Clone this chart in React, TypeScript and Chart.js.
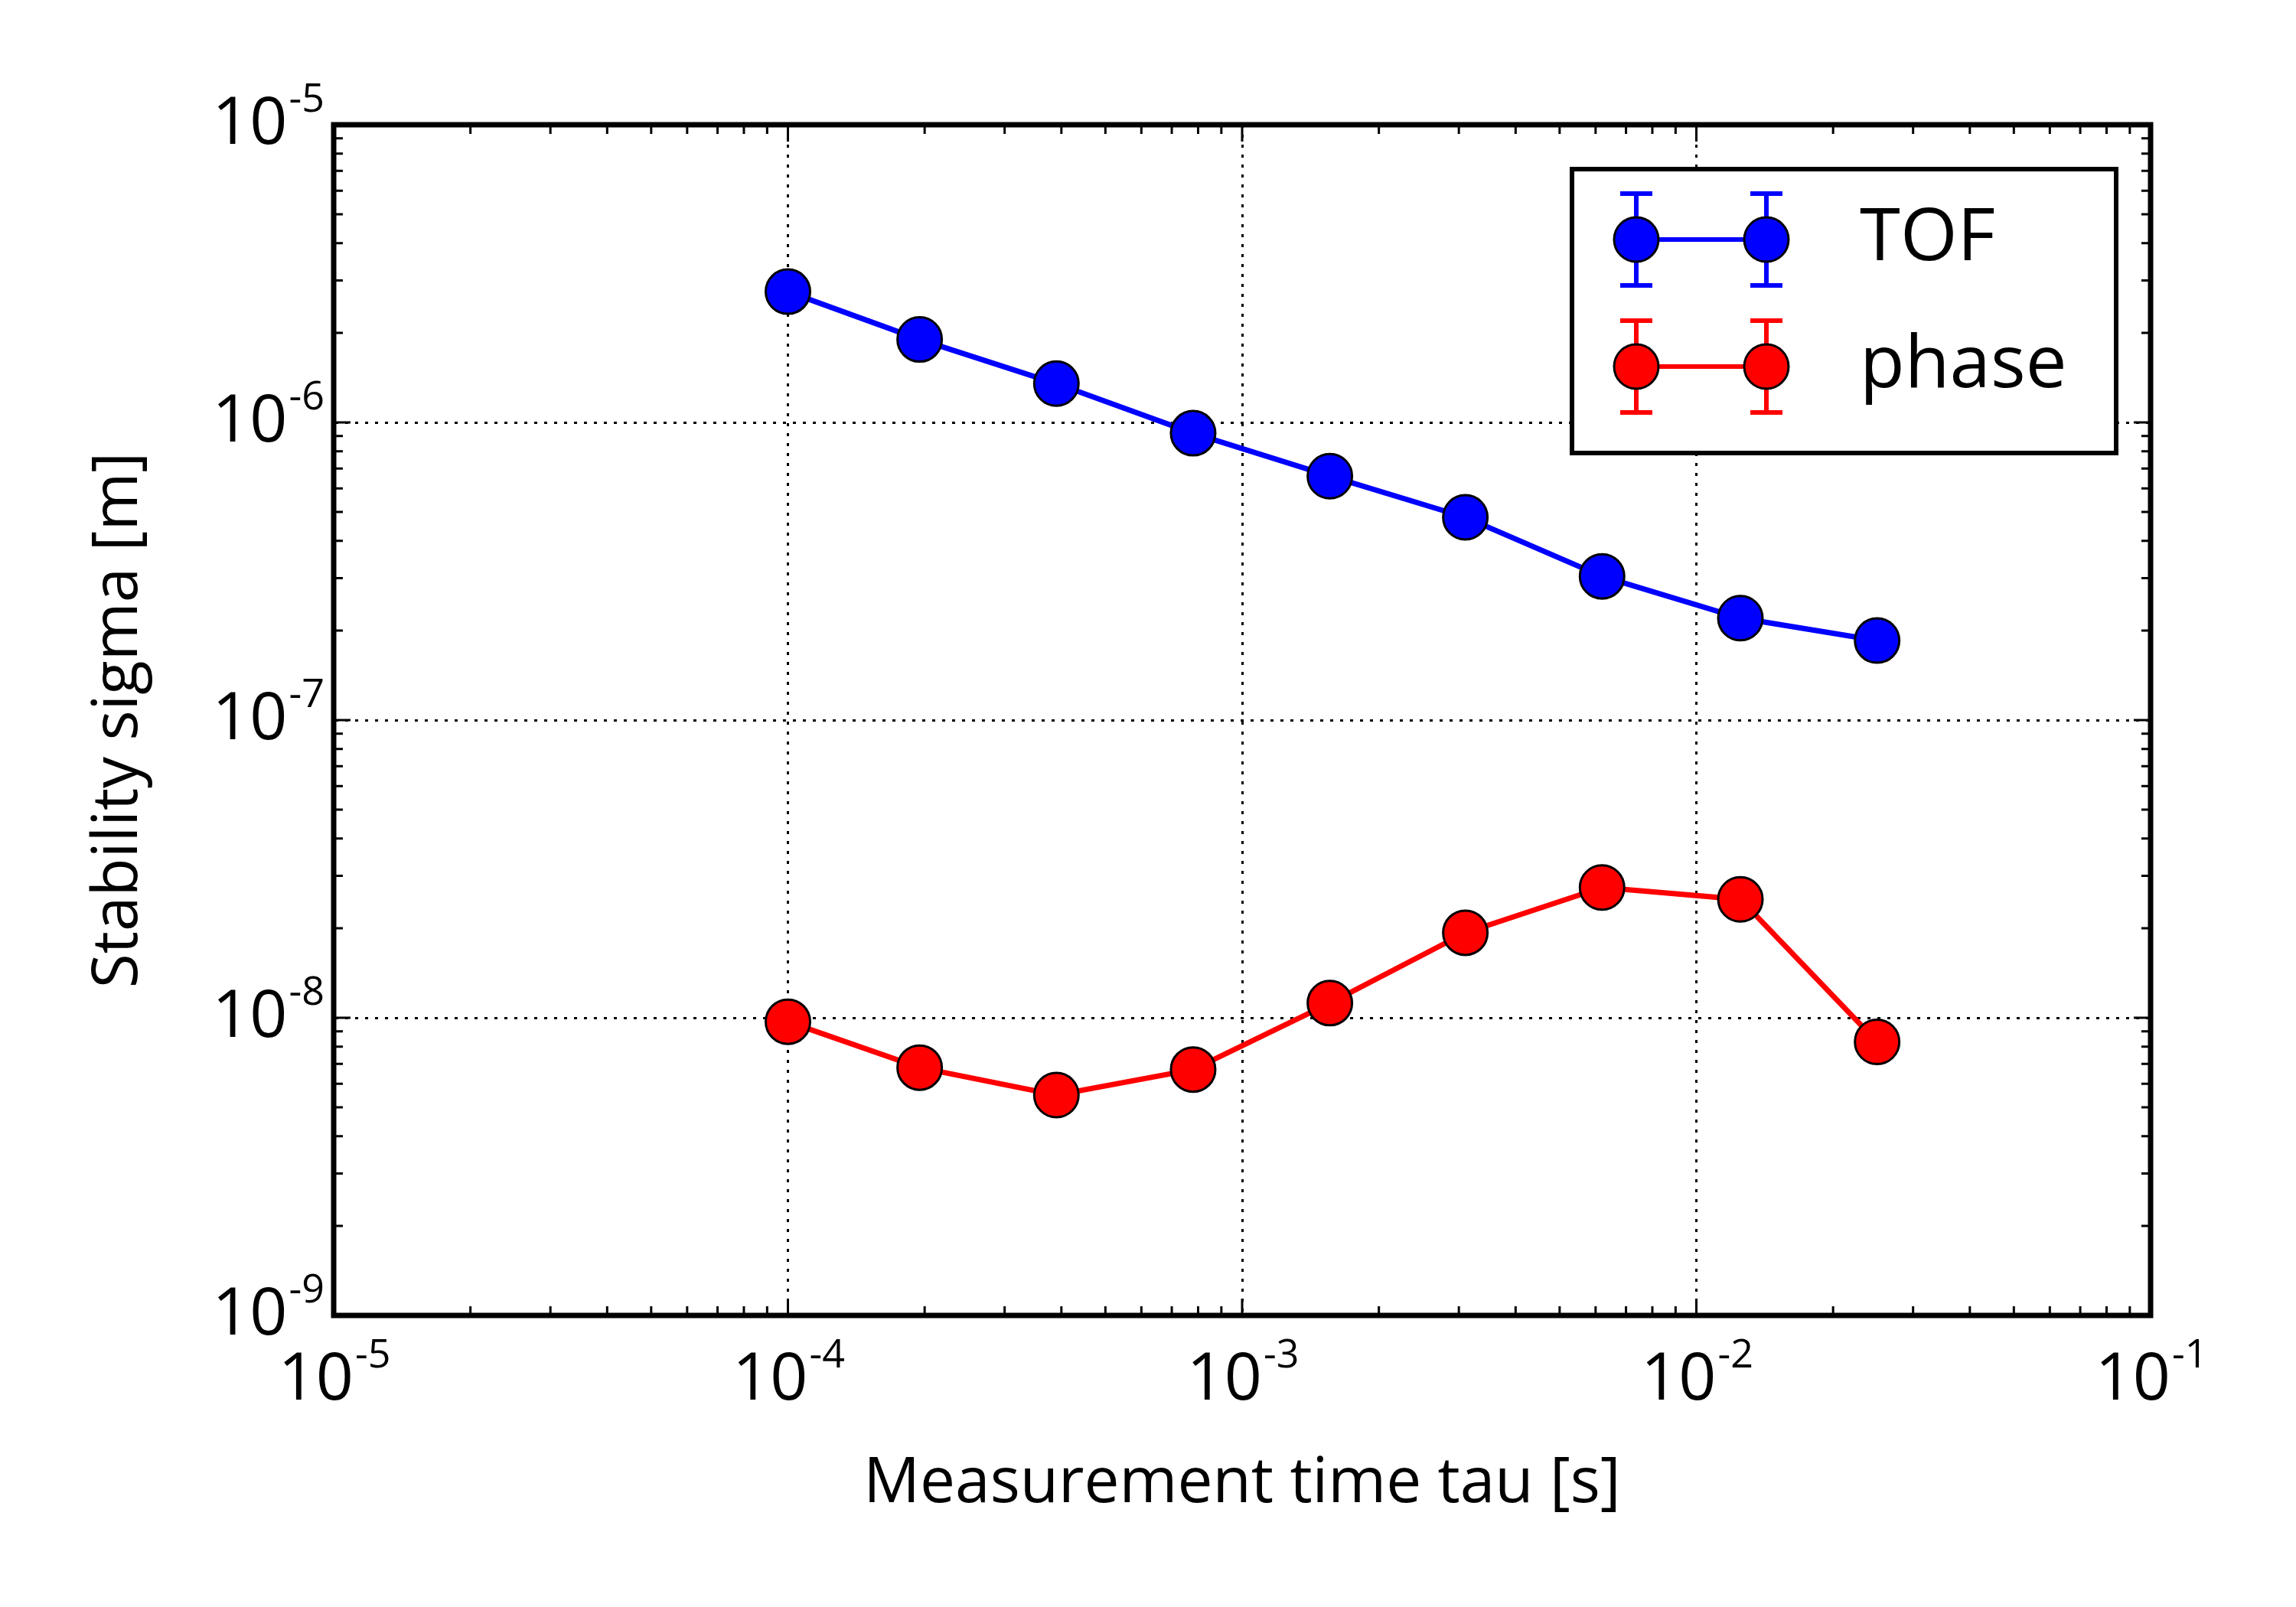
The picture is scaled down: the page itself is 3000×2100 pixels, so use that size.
import React, { useRef, useEffect } from 'react';
import { Chart, registerables, type Plugin } from 'chart.js';

Chart.register(...registerables);

const tau = [1e-4, 1.95e-4, 3.9e-4, 7.8e-4, 1.56e-3, 3.1e-3, 6.2e-3, 1.25e-2, 2.5e-2];
const tofSigma = [2.75e-6, 1.9e-6, 1.35e-6, 0.92e-6, 6.6e-7, 4.8e-7, 3.04e-7, 2.2e-7, 1.85e-7];
const phaseSigma = [9.7e-9, 6.8e-9, 5.5e-9, 6.7e-9, 1.12e-8, 1.93e-8, 2.74e-8, 2.5e-8, 8.3e-9];
const xExps = [-5, -4, -3, -2, -1];
const yExps = [-9, -8, -7, -6, -5];
const seriesNames = ['TOF', 'phase'];
const seriesColors = ['#0000ff', '#ff0000'];

const FONT = '"Open Sans", sans-serif';

const decor: Plugin = {
  id: 'decor',
  afterDraw(chart) {
    const { ctx, chartArea: a, scales: { x, y } } = chart;
    ctx.save();
    ctx.strokeStyle = '#000';
    ctx.lineWidth = 3;
    // inward ticks on all sides
    for (let e = -5; e < -1; e++) {
      for (let m = 1; m <= 9; m++) {
        const px = x.getPixelForValue(m * 10 ** e);
        const len = m === 1 ? 22 : 12;
        ctx.beginPath();
        ctx.moveTo(px, a.bottom); ctx.lineTo(px, a.bottom - len);
        ctx.moveTo(px, a.top); ctx.lineTo(px, a.top + len);
        ctx.stroke();
      }
    }
    for (let e = -9; e < -5; e++) {
      for (let m = 1; m <= 9; m++) {
        const py = y.getPixelForValue(m * 10 ** e);
        const len = m === 1 ? 22 : 12;
        ctx.beginPath();
        ctx.moveTo(a.left, py); ctx.lineTo(a.left + len, py);
        ctx.moveTo(a.right, py); ctx.lineTo(a.right - len, py);
        ctx.stroke();
      }
    }
    ctx.fillStyle = '#000';
    const big = `86px ${FONT}`;
    const sup = `52px ${FONT}`;
    const label = (e: number, cx: number, cy: number, align: 'center' | 'right') => {
      ctx.font = big;
      const w1 = ctx.measureText('10').width;
      ctx.font = sup;
      const s = String(e);
      const w2 = ctx.measureText(s).width;
      const start = align === 'center' ? cx - (w1 + w2) / 2 : cx - w1 - w2;
      ctx.textAlign = 'left';
      ctx.textBaseline = 'middle';
      ctx.font = big;
      ctx.fillText('10', start, cy);
      ctx.font = sup;
      ctx.fillText(s, start + w1 + 2, cy - 32);
    };
    xExps.forEach(e => label(e, x.getPixelForValue(10 ** e), a.bottom + 85, 'center'));
    yExps.forEach(e => label(e, a.left - 14, y.getPixelForValue(10 ** e), 'right'));

    ctx.font = `82px ${FONT}`;
    ctx.textAlign = 'center';
    ctx.textBaseline = 'middle';
    ctx.fillText('Measurement time tau [s]', (a.left + a.right) / 2, 1940);
    ctx.save();
    ctx.translate(156, (a.top + a.bottom) / 2);
    ctx.rotate(-Math.PI / 2);
    ctx.fillText('Stability sigma [m]', 0, 0);
    ctx.restore();

    // legend
    ctx.fillStyle = '#fff';
    ctx.fillRect(2054, 221, 711, 371);
    ctx.lineWidth = 6;
    ctx.strokeStyle = '#000';
    ctx.strokeRect(2054, 221, 711, 371);
    const rows = [313, 479];
    seriesNames.forEach((name, i) => {
      const ry = rows[i];
      const col = seriesColors[i];
      ctx.strokeStyle = col;
      ctx.lineWidth = 6;
      ctx.beginPath();
      ctx.moveTo(2138, ry); ctx.lineTo(2308, ry);
      [2138, 2308].forEach(mx => {
        ctx.moveTo(mx, ry - 60); ctx.lineTo(mx, ry + 60);
        ctx.moveTo(mx - 21, ry - 60); ctx.lineTo(mx + 21, ry - 60);
        ctx.moveTo(mx - 21, ry + 60); ctx.lineTo(mx + 21, ry + 60);
      });
      ctx.stroke();
      [2138, 2308].forEach(mx => {
        ctx.beginPath();
        ctx.arc(mx, ry, 29, 0, Math.PI * 2);
        ctx.fillStyle = col;
        ctx.fill();
        ctx.lineWidth = 3;
        ctx.strokeStyle = '#000';
        ctx.stroke();
      });
      ctx.fillStyle = '#000';
      ctx.font = `96px ${FONT}`;
      ctx.textAlign = 'left';
      ctx.fillText(name, 2430, ry);
    });
    ctx.restore();
  },
};

const majorGrid = (v: number) => Math.abs(Math.log10(v) - Math.round(Math.log10(v))) < 1e-6;

export default function App() {
  const canvasRef = useRef<HTMLCanvasElement>(null);

  useEffect(() => {
    if (!canvasRef.current) return;
    const mk = (vals: number[], i: number) => ({
      label: seriesNames[i],
      data: tau.map((t, k) => ({ x: t, y: vals[k] })),
      showLine: true,
      borderColor: seriesColors[i],
      borderWidth: 7,
      backgroundColor: seriesColors[i],
      pointBackgroundColor: seriesColors[i],
      pointBorderColor: '#000',
      pointBorderWidth: 3,
      pointRadius: 29,
    });
    const gridCfg = {
      color: (c: any) => (c.tick && majorGrid(c.tick.value) ? '#000' : 'rgba(0,0,0,0)'),
      lineWidth: 3,
      drawTicks: false,
    };
    const chart = new Chart(canvasRef.current, {
      type: 'scatter',
      data: { datasets: [mk(tofSigma, 0), mk(phaseSigma, 1)] },
      options: {
        animation: false,
        responsive: false,
        devicePixelRatio: 1,
        layout: { padding: { left: 436, right: 190, top: 163, bottom: 381 } },
        plugins: { legend: { display: false }, tooltip: { enabled: false } },
        scales: {
          x: {
            type: 'logarithmic', min: 1e-5, max: 1e-1,
            ticks: { display: false },
            grid: gridCfg as any,
            border: { display: true, color: '#000', width: 4, dash: [4, 9] },
          },
          y: {
            type: 'logarithmic', min: 1e-9, max: 1e-5,
            ticks: { display: false },
            grid: gridCfg as any,
            border: { display: true, color: '#000', width: 4, dash: [4, 9] },
          },
        },
      },
      plugins: [decor, {
        id: 'frame',
        afterDatasetsDraw(c) {
          const { ctx, chartArea: a } = c;
          ctx.save();
          ctx.strokeStyle = '#000';
          ctx.lineWidth = 7;
          ctx.strokeRect(a.left, a.top, a.right - a.left, a.bottom - a.top);
          ctx.restore();
        },
      }],
    });
    return () => chart.destroy();
  }, []);

  return (
    <div style={{ position: 'fixed', left: 0, top: 0, width: 3000, height: 2100, background: '#fff' }}>
      <canvas ref={canvasRef} width={3000} height={2100} style={{ width: 3000, height: 2100 }} />
    </div>
  );
}
